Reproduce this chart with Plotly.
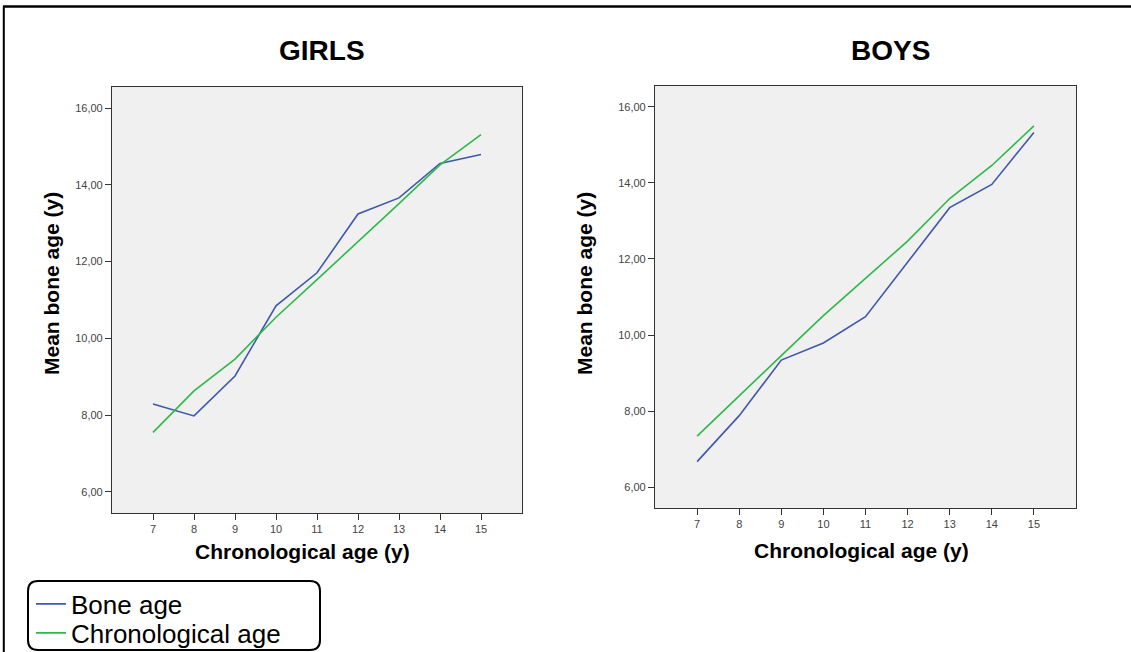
import plotly.graph_objects as go

ages = [7, 8, 9, 10, 11, 12, 13, 14, 15]
girls_bone = [8.29, 7.98, 9.02, 10.85, 11.71, 13.24, 13.66, 14.56, 14.79]
girls_chrono = [7.55, 8.63, 9.46, 10.55, 11.53, 12.51, 13.51, 14.52, 15.31]
boys_bone = [6.67, 7.88, 9.34, 9.79, 10.48, 11.92, 13.35, 13.96, 15.33]
boys_chrono = [7.34, 8.41, 9.46, 10.51, 11.50, 12.47, 13.59, 14.46, 15.50]
y_ticks = [6, 8, 10, 12, 14, 16]
y_ticktext = ["6,00", "8,00", "10,00", "12,00", "14,00", "16,00"]
panel_titles = ["GIRLS", "BOYS"]
series_names = ["Bone age", "Chronological age"]

W, H = 1131, 652
BLUE = "#3E58AC"
GREEN = "#2EB848"

def px(x):
    return x / W

def py(y):
    return 1 - y / H

fig = go.Figure()

fig.add_trace(go.Scatter(x=ages, y=girls_bone, mode="lines", name=series_names[0],
                         line=dict(color=BLUE, width=1.6), xaxis="x", yaxis="y",
                         legend="legend"))
fig.add_trace(go.Scatter(x=ages, y=girls_chrono, mode="lines", name=series_names[1],
                         line=dict(color=GREEN, width=1.6), xaxis="x", yaxis="y",
                         legend="legend2"))
fig.add_trace(go.Scatter(x=ages, y=boys_bone, mode="lines", name=series_names[0],
                         line=dict(color=BLUE, width=1.6), xaxis="x2", yaxis="y2",
                         showlegend=False))
fig.add_trace(go.Scatter(x=ages, y=boys_chrono, mode="lines", name=series_names[1],
                         line=dict(color=GREEN, width=1.6), xaxis="x2", yaxis="y2",
                         showlegend=False))

axis_common = dict(showgrid=False, zeroline=False, showline=True, mirror=True,
                   linecolor="#333333", linewidth=1.2, ticks="outside", ticklen=6,
                   tickcolor="#333333", tickwidth=1.2,
                   tickfont=dict(family="Arial", size=11, color="#444444"))

xa = dict(axis_common, range=[6, 16], tickvals=ages, ticktext=[str(a) for a in ages])
ya = dict(axis_common, range=[5.45, 16.55], tickvals=y_ticks, ticktext=y_ticktext)

legend_common = dict(xanchor="left", yanchor="middle", bgcolor="rgba(0,0,0,0)",
                     borderwidth=0, font=dict(family="Arial", size=26, color="black"),
                     itemwidth=30)

fig.update_layout(
    width=W, height=H,
    margin=dict(l=0, r=0, t=0, b=0, autoexpand=False),
    paper_bgcolor="white",
    plot_bgcolor="#f0f0f0",
    xaxis=dict(xa, domain=[px(112), px(522)], anchor="y"),
    yaxis=dict(ya, domain=[py(513), py(87)], anchor="x"),
    xaxis2=dict(xa, domain=[px(655), px(1076)], anchor="y2"),
    yaxis2=dict(ya, domain=[py(508), py(86)], anchor="x2"),
    showlegend=True,
    legend=dict(legend_common, x=px(31), y=py(604)),
    legend2=dict(legend_common, x=px(31), y=py(633)),
)

title_font = dict(family="Arial", size=28, color="black")
axis_title_font = dict(family="Arial", size=21, color="black")
annotations = [
    dict(text="<b>%s</b>" % panel_titles[0], x=px(321.5), y=py(51), xref="paper", yref="paper",
         showarrow=False, font=title_font, xanchor="center", yanchor="middle"),
    dict(text="<b>%s</b>" % panel_titles[1], x=px(890), y=py(51), xref="paper", yref="paper",
         showarrow=False, font=title_font, xanchor="center", yanchor="middle"),
    dict(text="<b>Chronological age (y)</b>", x=px(302), y=py(551), xref="paper", yref="paper",
         showarrow=False, font=axis_title_font, xanchor="center", yanchor="middle"),
    dict(text="<b>Chronological age (y)</b>", x=px(861), y=py(550), xref="paper", yref="paper",
         showarrow=False, font=axis_title_font, xanchor="center", yanchor="middle"),
    dict(text="<b>Mean bone age (y)</b>", x=px(52), y=py(284), xref="paper", yref="paper",
         showarrow=False, font=axis_title_font, textangle=-90, xanchor="center", yanchor="middle"),
    dict(text="<b>Mean bone age (y)</b>", x=px(585), y=py(284), xref="paper", yref="paper",
         showarrow=False, font=axis_title_font, textangle=-90, xanchor="center", yanchor="middle"),
]
fig.update_layout(annotations=annotations)

x0, x1 = px(28), px(320)
y0, y1 = py(650), py(581)
rx, ry = 10 / W, 10 / H
path = (f"M {x0+rx},{y1} L {x1-rx},{y1} Q {x1},{y1} {x1},{y1-ry} "
        f"L {x1},{y0+ry} Q {x1},{y0} {x1-rx},{y0} L {x0+rx},{y0} "
        f"Q {x0},{y0} {x0},{y0+ry} L {x0},{y1-ry} Q {x0},{y1} {x0+rx},{y1} Z")
fig.update_layout(shapes=[
    dict(type="line", xref="paper", yref="paper", x0=px(3), x1=1, y0=py(6.5), y1=py(6.5),
         line=dict(color="black", width=2.5)),
    dict(type="line", xref="paper", yref="paper", x0=px(3.8), x1=px(3.8), y0=py(6), y1=0,
         line=dict(color="black", width=2)),
    dict(type="path", xref="paper", yref="paper", path=path,
         line=dict(color="black", width=2)),
])

fig.write_html("out.html", config={"displayModeBar": False},
               post_script="document.body.style.margin='0px';document.body.style.overflow='hidden';")
